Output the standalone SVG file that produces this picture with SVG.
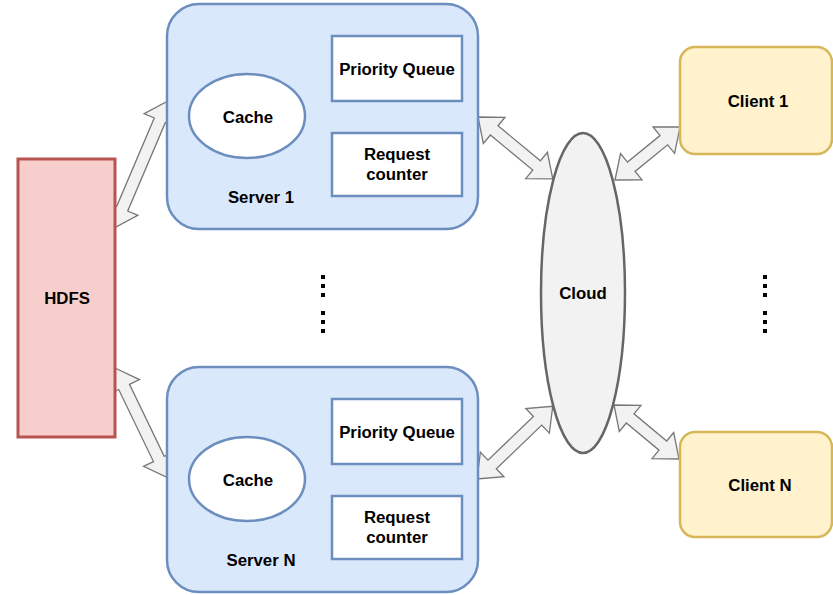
<svg xmlns="http://www.w3.org/2000/svg" width="833" height="595" viewBox="0 0 833 595">
  <style>
    .lbl { font-family: "Liberation Sans", Arial, Helvetica, sans-serif; font-weight: bold; font-size: 16.8px; fill: #000; text-anchor: middle; }
    .server { fill: #dae8fc; stroke: #6c8ebf; stroke-width: 2.5; }
    .inner { fill: #ffffff; stroke: #6c8ebf; stroke-width: 2.5; }
    .hdfs { fill: #f8cecc; stroke: #b85450; stroke-width: 3; }
    .client { fill: #fff2cc; stroke: #d6b656; stroke-width: 2.5; }
    .cloud { fill: #f2f2f2; stroke: #666666; stroke-width: 2.5; }
    .flex { fill: #f2f2f2; stroke: #777777; stroke-width: 1.3; stroke-linejoin: miter; }
    .dot { fill: #000; }
  </style>

  <rect width="833" height="595" fill="#ffffff"/>

  <!-- double-headed block arrows -->
  <g id="connectors">
    <polygon class="flex" transform="translate(114,228) rotate(-66.97)" points="0,0 21,-17 21,-6 117,-6 117,-17 138,0 117,17 117,6 21,6 21,17"/>
    <polygon class="flex" transform="translate(115,368) rotate(64.27)" points="0,0 21,-17 21,-6 101,-6 101,-17 122,0 101,17 101,6 21,6 21,17"/>
    <polygon class="flex" transform="translate(478,117) rotate(39.58)" points="0,0 21,-17 21,-6 76,-6 76,-17 97,0 76,17 76,6 21,6 21,17"/>
    <polygon class="flex" transform="translate(615,180) rotate(-39.2)" points="0,0 21,-17 21,-6 63,-6 63,-17 84,0 63,17 63,6 21,6 21,17"/>
    <polygon class="flex" transform="translate(477,479) rotate(-43.84)" points="0,0 21,-17 21,-6 84,-6 84,-17 105,0 84,17 84,6 21,6 21,17"/>
    <polygon class="flex" transform="translate(614,405) rotate(39.72)" points="0,0 21,-17 21,-6 63.5,-6 63.5,-17 84.5,0 63.5,17 63.5,6 21,6 21,17"/>
  </g>

  <g id="hdfs">
    <rect class="hdfs" x="18" y="159" width="97" height="278"/>
    <text class="lbl" x="67" y="304">HDFS</text>
  </g>

  <g id="server-1">
    <rect class="server" x="167" y="4" width="311" height="225" rx="32" ry="32"/>
    <ellipse class="inner" cx="247" cy="116" rx="58" ry="42"/>
    <text class="lbl" x="248" y="123">Cache</text>
    <rect class="inner" x="332" y="36" width="130" height="65"/>
    <text class="lbl" x="397" y="75">Priority Queue</text>
    <rect class="inner" x="332" y="133" width="130" height="63"/>
    <text class="lbl" x="397" y="160">Request</text>
    <text class="lbl" x="397" y="180">counter</text>
    <text class="lbl" x="261" y="203">Server 1</text>
  </g>

  <g id="server-n">
    <rect class="server" x="167" y="367" width="311" height="225" rx="32" ry="32"/>
    <ellipse class="inner" cx="247" cy="479" rx="58" ry="42"/>
    <text class="lbl" x="248" y="486">Cache</text>
    <rect class="inner" x="332" y="399" width="130" height="65"/>
    <text class="lbl" x="397" y="438">Priority Queue</text>
    <rect class="inner" x="332" y="496" width="130" height="63"/>
    <text class="lbl" x="397" y="523">Request</text>
    <text class="lbl" x="397" y="543">counter</text>
    <text class="lbl" x="261" y="566">Server N</text>
  </g>

  <g id="cloud">
    <ellipse class="cloud" cx="583" cy="293" rx="42" ry="160"/>
    <text class="lbl" x="583" y="299">Cloud</text>
  </g>

  <g id="client-1">
    <rect class="client" x="680" y="47" width="152" height="107" rx="15" ry="15"/>
    <text class="lbl" x="758" y="107">Client 1</text>
  </g>

  <g id="client-n">
    <rect class="client" x="680" y="432" width="152" height="105" rx="15" ry="15"/>
    <text class="lbl" x="760" y="491">Client N</text>
  </g>

  <!-- vertical ellipsis marks between the repeated servers and clients -->
  <g id="ellipsis-servers">
    <rect class="dot" x="321" y="275" width="4" height="4"/>
    <rect class="dot" x="321" y="284" width="4" height="4"/>
    <rect class="dot" x="321" y="293" width="4" height="4"/>
    <rect class="dot" x="321" y="311" width="4" height="4"/>
    <rect class="dot" x="321" y="320" width="4" height="4"/>
    <rect class="dot" x="321" y="329" width="4" height="4"/>
  </g>
  <g id="ellipsis-clients">
    <rect class="dot" x="763" y="275" width="4" height="4"/>
    <rect class="dot" x="763" y="284" width="4" height="4"/>
    <rect class="dot" x="763" y="293" width="4" height="4"/>
    <rect class="dot" x="763" y="311" width="4" height="4"/>
    <rect class="dot" x="763" y="320" width="4" height="4"/>
    <rect class="dot" x="763" y="329" width="4" height="4"/>
  </g>
</svg>
